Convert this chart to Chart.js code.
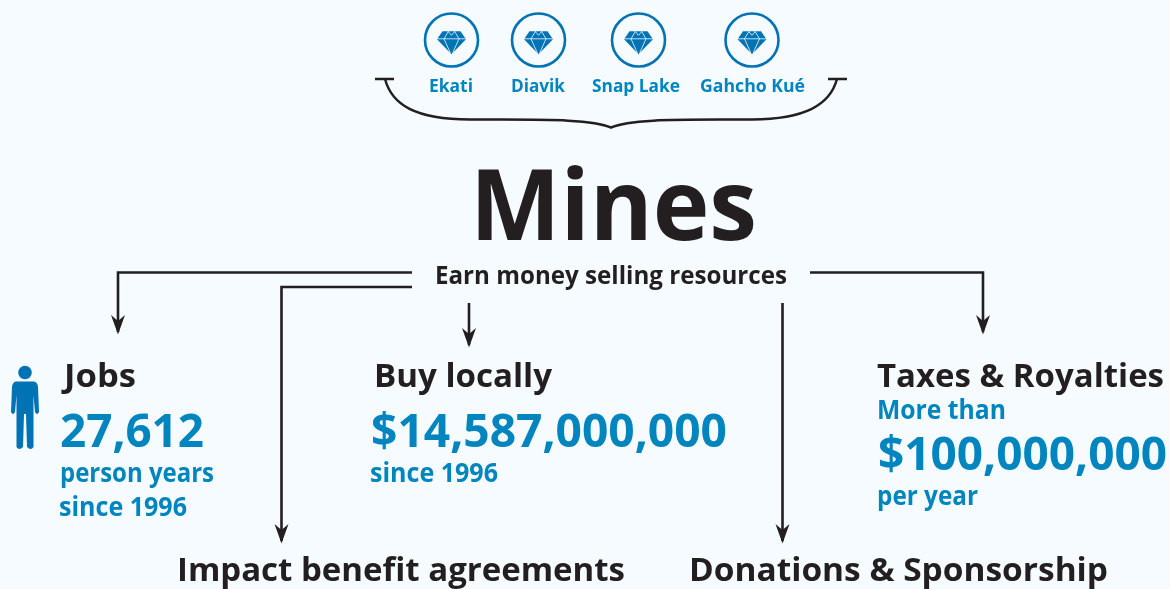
<!DOCTYPE html>
<html lang="en">
<head>
<meta charset="UTF-8">
<title>Mines</title>
<script src="https://cdn.jsdelivr.net/npm/chart.js"></script>
<style>
  html, body { margin: 0; padding: 0; background: #f5fbfe; overflow: hidden; }
  canvas { display: block; }
</style>
</head>
<body>
<canvas id="myChart" width="1170" height="589"></canvas>
<script>
// the content of the graphic
const mineNames = ["Ekati", "Diavik", "Snap Lake", "Gahcho Kué"];
const mainTitle = "Mines";
const subTitle = "Earn money selling resources";
const headings = ["Jobs", "Buy locally", "Taxes & Royalties", "Impact benefit agreements", "Donations & Sponsorship"];
const amounts = ["27,612", "$14,587,000,000", "$100,000,000"];
const notes = ["person years", "since 1996", "since 1996", "More than", "per year"];

const DARK = "#231f20";
const BLUE = "#0085bf";
const ICON = "#0073b5";

// layout, in the 1170x589 space of the hidden axes
const minePos = [[451.5, 40], [538.5, 40], [638.5, 40], [752, 40]];
const mineLabelPos = [[429, 92, 44], [511, 92, 54], [592, 92, 88], [700, 92, 105]];
const connectors = [
  [[412, 272.5], [118, 272.5], [118, 332]],
  [[412, 287], [281.5, 287], [281.5, 541]],
  [[469, 303], [469, 345]],
  [[782.5, 303], [782.5, 541]],
  [[810, 272.5], [983, 272.5], [983, 332]]
];

const labels = [
  // text, x, baseline, width, px, colour
  [mainTitle, 470, 240, 287, 98, DARK],
  [subTitle, 435, 284, 352, 25, DARK],
  [headings[0], 64, 387, 72, 33, DARK],
  [amounts[0], 60, 447, 144, 46, BLUE],
  [notes[0], 60, 482, 154, 26, BLUE],
  [notes[1], 59, 516, 128, 26, BLUE],
  [headings[1], 374, 387, 178, 33, DARK],
  [amounts[1], 371, 447, 356, 46, BLUE],
  [notes[2], 370, 482, 128, 26, BLUE],
  [headings[2], 877, 387, 287, 33, DARK],
  [notes[3], 877, 419, 129, 26, BLUE],
  [amounts[2], 878, 470, 289, 46, BLUE],
  [notes[4], 877, 505, 101, 26, BLUE],
  [headings[3], 177, 581, 448, 33, DARK],
  [headings[4], 689, 581, 419, 33, DARK]
];
mineNames.forEach((name, i) => {
  const p = mineLabelPos[i];
  labels.push([name, p[0], p[1], p[2], 18, BLUE]);
});

const toXY = pts => pts.map(p => ({ x: p[0], y: p[1] }));

const graphicPlugin = {
  id: "graphic",
  afterDatasetsDraw(chart) {
    const ctx = chart.ctx;
    const X = chart.scales.x, Y = chart.scales.y;
    const px = v => X.getPixelForValue(v);
    const py = v => Y.getPixelForValue(v);

    ctx.save();

    // arrow heads on the end of each connector
    ctx.fillStyle = DARK;
    connectors.forEach(path => {
      const end = path[path.length - 1];
      const x = px(end[0]), y = py(end[1]);
      ctx.beginPath();
      ctx.moveTo(x, y + 2.5);
      ctx.lineTo(x - 7, y - 17);
      ctx.lineTo(x, y - 11);
      ctx.lineTo(x + 7, y - 17);
      ctx.closePath();
      ctx.fill();
    });

    // brace under the mine names
    ctx.strokeStyle = DARK;
    ctx.lineWidth = 2.5;
    ctx.beginPath();
    ctx.moveTo(px(375), py(79)); ctx.lineTo(px(394), py(79));
    ctx.moveTo(px(828), py(79)); ctx.lineTo(px(847), py(79));
    ctx.moveTo(px(385), py(79));
    ctx.bezierCurveTo(px(392), py(105), px(415), py(119), px(470), py(119.5));
    ctx.bezierCurveTo(px(530), py(120), px(590), py(118), px(611), py(127.5));
    ctx.bezierCurveTo(px(632), py(118), px(690), py(120), px(752), py(119.5));
    ctx.bezierCurveTo(px(805), py(119), px(830), py(105), px(837), py(79));
    ctx.stroke();

    // diamonds inside the circles
    minePos.forEach(p => {
      const cx = px(p[0]), cy = py(p[1]) + 1.3;
      ctx.fillStyle = ICON;
      ctx.beginPath();
      ctx.moveTo(cx - 9, cy - 10);
      ctx.lineTo(cx + 9, cy - 10);
      ctx.lineTo(cx + 14.5, cy - 2);
      ctx.lineTo(cx, cy + 13);
      ctx.lineTo(cx - 14.5, cy - 2);
      ctx.closePath();
      ctx.fill();
      ctx.strokeStyle = "#f5fbfe";
      ctx.lineWidth = 0.8;
      ctx.beginPath();
      ctx.moveTo(cx - 15, cy - 2.5); ctx.lineTo(cx + 15, cy - 2.5);
      ctx.moveTo(cx - 7.5, cy - 2.5); ctx.lineTo(cx - 1, cy + 12);
      ctx.moveTo(cx + 7.5, cy - 2.5); ctx.lineTo(cx + 1, cy + 12);
      ctx.moveTo(cx - 7.5, cy - 2.5); ctx.lineTo(cx - 3, cy - 10);
      ctx.moveTo(cx + 7.5, cy - 2.5); ctx.lineTo(cx + 3, cy - 10);
      ctx.moveTo(cx - 3.5, cy - 10); ctx.lineTo(cx, cy - 6); ctx.lineTo(cx + 3.5, cy - 10);
      ctx.stroke();
    });

    // person next to Jobs
    const hx = px(25);
    ctx.fillStyle = ICON;
    ctx.beginPath();
    ctx.arc(hx, py(372.5), 6.8, 0, Math.PI * 2);
    ctx.fill();
    ctx.beginPath();
    ctx.moveTo(hx - 9, py(381.5));
    ctx.lineTo(hx + 9, py(381.5));
    ctx.quadraticCurveTo(hx + 12.5, py(382), hx + 13, py(387));
    ctx.lineTo(hx + 14, py(412));
    ctx.quadraticCurveTo(hx + 12, py(416), hx + 10, py(412));
    ctx.lineTo(hx + 8.5, py(395));
    ctx.lineTo(hx + 8.5, py(447));
    ctx.quadraticCurveTo(hx + 6, py(451), hx + 2, py(447));
    ctx.lineTo(hx + 1, py(414));
    ctx.lineTo(hx - 1, py(414));
    ctx.lineTo(hx - 2, py(447));
    ctx.quadraticCurveTo(hx - 6, py(451), hx - 8.5, py(447));
    ctx.lineTo(hx - 8.5, py(395));
    ctx.lineTo(hx - 10, py(412));
    ctx.quadraticCurveTo(hx - 12, py(416), hx - 14, py(412));
    ctx.lineTo(hx - 13, py(387));
    ctx.quadraticCurveTo(hx - 12.5, py(382), hx - 9, py(381.5));
    ctx.closePath();
    ctx.fill();

    // all the text, squeezed to the width it has in the picture
    ctx.textAlign = "left";
    ctx.textBaseline = "alphabetic";
    labels.forEach(l => {
      ctx.font = "700 " + l[4] + 'px "Open Sans", sans-serif';
      ctx.fillStyle = l[5];
      const w = ctx.measureText(l[0]).width;
      ctx.save();
      ctx.translate(px(l[1]), py(l[2]));
      ctx.scale(l[3] / w, 1);
      ctx.fillText(l[0], 0, 0);
      ctx.restore();
    });

    ctx.restore();
  }
};

const datasets = connectors.map((path, i) => ({
  label: "connector " + i,
  data: toXY(path),
  showLine: true,
  borderColor: DARK,
  borderWidth: 2.6,
  pointRadius: 0,
  fill: false
}));
datasets.push({
  label: "mines",
  data: toXY(minePos),
  showLine: false,
  pointRadius: 26.5,
  pointHoverRadius: 26.5,
  pointBorderWidth: 2.6,
  pointBorderColor: ICON,
  pointBackgroundColor: "#f5fbfe"
});

new Chart(document.getElementById("myChart").getContext("2d"), {
  type: "scatter",
  data: { datasets: datasets },
  options: {
    responsive: false,
    animation: false,
    layout: { padding: 0, autoPadding: false },
    plugins: { legend: { display: false }, tooltip: { enabled: false }, title: { display: false } },
    scales: {
      x: { type: "linear", min: 0, max: 1170, display: false },
      y: { type: "linear", min: 0, max: 589, reverse: true, display: false }
    }
  },
  plugins: [graphicPlugin]
});
</script>
</body>
</html>
